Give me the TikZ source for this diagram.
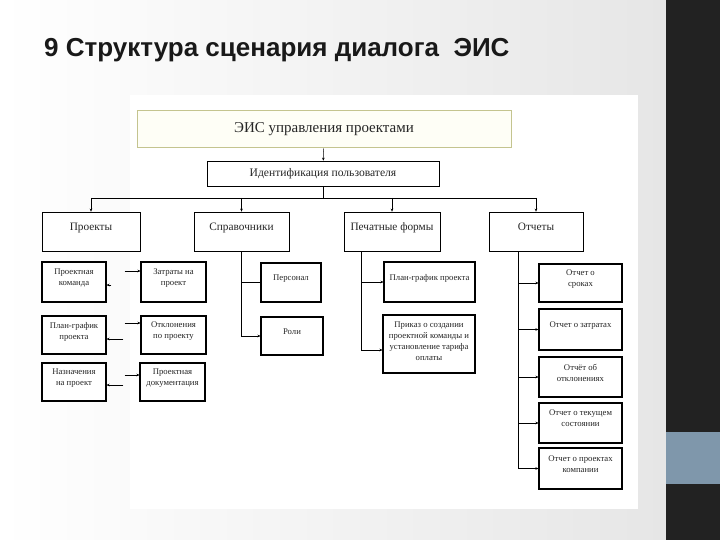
\documentclass[tikz,border=0pt]{standalone}
\usepackage{fontspec}
\setmainfont{Liberation Serif}
\newfontfamily\titlefont{Liberation Sans}
\usetikzlibrary{arrows.meta, positioning, calc}
\definecolor{olivrand}{HTML}{C4C48F}
\definecolor{creme}{HTML}{FEFEF6}
\definecolor{folie}{HTML}{E6E6E6}
\definecolor{leiste}{HTML}{222222}
\definecolor{graublau}{HTML}{7F97AB}

\begin{document}
\begin{tikzpicture}[x=1pt, y=-1pt,
    box/.style={rectangle, draw=black, line width=0.7pt, fill=white,
                text=black!85, align=center, inner sep=1pt},
    kopf/.style={box, font=\fontsize{11.3}{13}\selectfont, text depth=10pt},
    klein/.style={box, line width=1.1pt, font=\fontsize{8.7}{11}\selectfont,
                  text depth=9pt},
    arr/.style={-{Stealth[length=3pt, width=2.6pt]}, line width=0.5pt},
    lin/.style={line width=0.5pt}
  ]
  \useasboundingbox (0,0) rectangle (720,540);
  % Folie
  \shade[left color=white, right color=folie] (0,0) rectangle (666,540);
  \fill[white] (130,95) rectangle (638,509);
  \fill[leiste] (666,0) rectangle (720,540);
  \fill[graublau] (666,432) rectangle (720,484);

  \node[anchor=base west, inner sep=0, text=black!90,
        font=\titlefont\bfseries\fontsize{26}{30}\selectfont]
    (titel) at (44,57) {9 Структура сценария диалога\ \ ЭИС};

  \node[box, draw=olivrand, fill=creme, line width=1pt,
        minimum width=374pt, minimum height=37pt,
        font=\fontsize{15}{17}\selectfont] (eis) at (324,129.5)
    {ЭИС управления проектами};
  \node[box, minimum width=232pt, minimum height=25pt,
        font=\fontsize{11.6}{13}\selectfont] (ident) at (323,173.5)
    {Идентификация пользователя};

  \node[kopf, minimum width=98pt, minimum height=39pt] (prj) at (91,231.5) {Проекты};
  \node[kopf, minimum width=95pt, minimum height=39pt] (spr) at (241.5,231.5) {Справочники};
  \node[kopf, minimum width=96pt, minimum height=39pt] (pch) at (392,231.5) {Печатные формы};
  \node[kopf, minimum width=94pt, minimum height=39pt] (otc) at (536,231.5) {Отчеты};

  % Проекты
  \node[klein, minimum width=64pt, minimum height=40pt] (kom) at (74,282) {Проектная\\ команда};
  \node[klein, minimum width=65pt, minimum height=40pt] (ztr) at (173.5,282) {Затраты на\\ проект};
  \node[klein, minimum width=64pt, minimum height=38pt] (plg) at (74,335) {План-график\\ проекта};
  \node[klein, minimum width=65pt, minimum height=38pt] (okl) at (173.5,335) {Отклонения\\ по проекту};
  \node[klein, minimum width=64pt, minimum height=38pt] (nzn) at (74,382) {Назначения\\ на проект};
  \node[klein, minimum width=65pt, minimum height=38pt] (dok) at (172.5,382) {Проектная\\ документация};

  % Справочники
  \node[klein, minimum width=60pt, minimum height=39pt] (pers) at (291,282.5) {Персонал};
  \node[klein, minimum width=62pt, minimum height=38pt] (roli) at (292,336) {Роли};

  % Печатные формы
  \node[klein, minimum width=91pt, minimum height=40pt] (pplg) at (429.5,282) {План-график проекта};
  \node[klein, minimum width=92pt, minimum height=58pt, text depth=6pt] (prk) at (429,344)
    {Приказ о создании\\ проектной команды и\\ установление тарифа\\ оплаты};

  % Отчеты
  \node[klein, minimum width=83pt, minimum height=38pt] (osr) at (580.5,283) {Отчет о\\ сроках};
  \node[klein, minimum width=83pt, minimum height=41pt] (ozt) at (580.5,329.5) {Отчет о затратах};
  \node[klein, minimum width=83pt, minimum height=40pt] (oot) at (580.5,377) {Отчёт об\\ отклонениях};
  \node[klein, minimum width=83pt, minimum height=40pt] (otk) at (580.5,423) {Отчет о текущем\\ состоянии};
  \node[klein, minimum width=83pt, minimum height=41pt] (opr) at (580.5,468.5) {Отчет о проектах\\ компании};

  \coordinate (bus) at (0,198);
  \draw[arr] (eis) -- (ident);
  \draw[lin] (ident.south) -- (ident.south |- bus);
  \draw[lin] (prj.north |- bus) -- (otc.north |- bus);
  \foreach \n in {prj,spr,pch,otc}
    \draw[arr] (\n.north |- bus) -- (\n.north);

  \foreach \a/\b/\hin/\rueck/\lang in {kom/ztr/11/-3/-29, plg/okl/12/-4/-17, nzn/dok/7/-3/-16}{
    \draw[arr] ([xshift=18pt, yshift=\hin pt]\a.east) -- ([yshift=\hin pt]\b.west);
    \draw[arr] ([xshift=\lang pt, yshift=\rueck pt]\b.west) -- ([yshift=\rueck pt]\a.east);
  }

  \draw[lin] (spr.south) |- (pers.west);
  \draw[arr] (spr.south) |- (roli.west);

  \draw[arr] ([xshift=-31pt]pch.south) |- (pplg.west);
  \draw[arr] ([xshift=-31pt]pch.south) |- ([yshift=-6pt]prk.west);

  \foreach \n in {osr,ozt,oot,otk,opr}
    \draw[arr] ([xshift=-18pt]otc.south) |- (\n.west);
\end{tikzpicture}
\end{document}
